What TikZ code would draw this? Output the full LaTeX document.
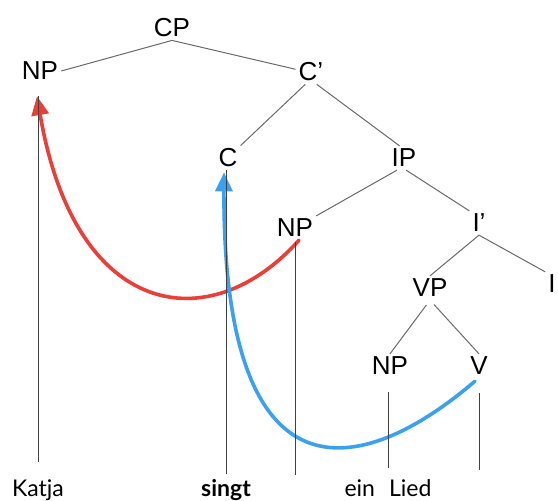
\documentclass[tikz,border=0pt]{standalone}
\usepackage{fontspec}
\setmainfont{Liberation Sans}
\newfontfamily\wordfont{Lato}
\usetikzlibrary{arrows.meta}
\definecolor{movered}{RGB}{234,62,55}
\definecolor{moveblue}{RGB}{58,160,240}
\definecolor{treegray}{RGB}{105,105,105}
\begin{document}
\begin{tikzpicture}[x=1pt,y=-1pt,
  cat/.style={font=\fontsize{26}{30}\selectfont, inner sep=3pt},
  word/.style={font=\wordfont\fontsize{23}{27}\selectfont, anchor=base, inner sep=2pt},
  branch/.style={draw=treegray, line width=1pt},
  stem/.style={draw=black!75, line width=0.9pt},
  move/.style={line width=3.6pt, line cap=round, -{Triangle[length=19pt,width=17pt]}}]
\useasboundingbox (0,0) rectangle (558,501);
% category nodes
\node[cat] (CP) at (172,28) {CP};
\node[cat] (NPa) at (40,71) {NP};
\node[cat] (Cbar) at (311,72) {C’};
\node[cat] (C) at (228,158) {C};
\node[cat] (IP) at (404,158) {IP};
\node[cat] (NPb) at (295,228) {NP};
\node[cat] (Ibar) at (479,223) {I’};
\node[cat] (VP) at (430,288) {VP};
\node[cat] (I) at (552,284) {I};
\node[cat] (NPc) at (390,366) {NP};
\node[cat] (V) at (479,366) {V};
% words
\node[word] (Katja) at (38,496) {Katja};
\node[word] (singt) at (226,496) {\bfseries singt};
\node[word] (einLied) at (388,496) {ein\hspace{14pt}Lied};
\coordinate (tNP) at (295,475);
\coordinate (tV) at (479,470);
% branches
\draw[branch] (CP.south) -- (NPa.east);
\draw[branch] (CP.south) -- (Cbar.170);
\draw[branch] (Cbar.-115) -- (C.north east);
\draw[branch] (Cbar.-65) -- (IP.110);
\draw[branch] (IP.-120) -- (NPb.north east);
\draw[branch] (IP.-80) -- (Ibar.north west);
\draw[branch] (Ibar.south) -- (VP.north);
\draw[branch] (Ibar.south) -- (I.north west);
\draw[branch, shorten <=6pt] (VP.south) -- (NPc.north);
\draw[branch, shorten <=6pt] (VP.south) -- (V.north);
% movement arrows
\draw[move, movered] ([xshift=4pt]NPb.south) .. controls (210,340) and (75,320) .. ([xshift=-3pt,yshift=-13pt]NPa.south);
\draw[move, moveblue] ([xshift=-4pt,yshift=-3pt]V.south) .. controls (362,478) and (223,510) .. ([xshift=-4pt,yshift=-2pt]C.south);
% stems
\draw[stem, shorten <=13pt, shorten >=15pt] (NPa.south -| Katja.north) -- (Katja.north);
\draw[stem, shorten >=3pt] (C.south -| singt.north) -- (singt.north);
\draw[stem, shorten <=2pt] (NPb.south) -- (tNP);
\draw[stem, shorten <=14pt, shorten >=9pt] (NPc.south -| einLied.north) -- (einLied.north);
\draw[stem, shorten <=15pt] (V.south) -- (tV);
\end{tikzpicture}
\end{document}
